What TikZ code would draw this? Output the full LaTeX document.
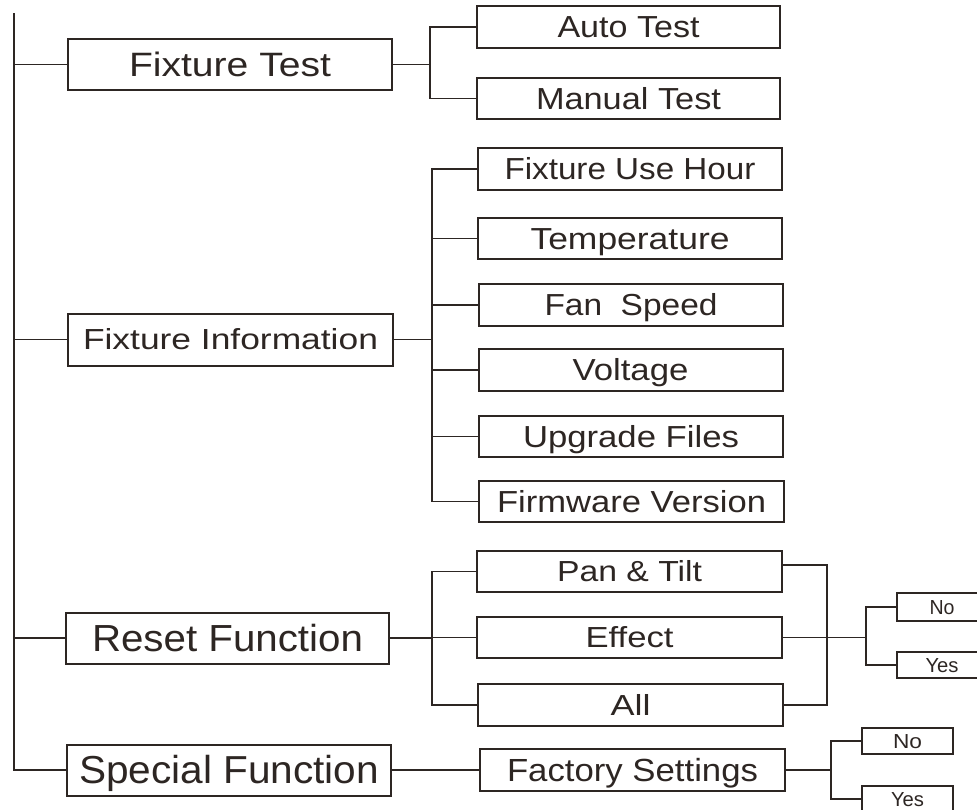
\documentclass[tikz,border=0pt]{standalone}
\usepackage{fontspec}
\setmainfont{Liberation Sans}
\usetikzlibrary{calc}
\definecolor{ink}{HTML}{2D2623}
\newsavebox\lblbox
\newcommand\fitlbl[3]{\fontsize{#1}{#1}\selectfont\sbox\lblbox{#3}\pgfmathsetmacro\lblsx{#2/\the\wd\lblbox}\scalebox{\lblsx}[1]{\usebox\lblbox}}
\tikzset{
  box/.style={draw=ink, line width=2pt, inner sep=0pt, text=ink, text depth=0pt},
  wire/.style={draw=ink, line width=1.9pt},
}
\begin{document}
\begin{tikzpicture}[x=1pt,y=-1pt]
\useasboundingbox (0,0) rectangle (977,809);
% bracket x positions
\coordinate (top) at (14,13);
\coordinate (b1) at (430,0);
\coordinate (b2) at (432,0);
\coordinate (b3) at (827,0);
\coordinate (b4) at (866,0);
\coordinate (b5) at (831,0);
% level 1
\node[box, minimum width=324pt, minimum height=51pt, text height=23.3pt] (ft) at (230,64.5) {\fitlbl{33.8pt}{202}{Fixture Test}};
\node[box, minimum width=325pt, minimum height=52pt, text height=20pt] (fi) at (230.5,339.5) {\fitlbl{29pt}{295}{Fixture Information}};
\node[box, minimum width=323pt, minimum height=51pt, text height=26pt] (rf) at (227.5,638) {\fitlbl{37.7pt}{271}{Reset Function}};
\node[box, minimum width=324pt, minimum height=51pt, text height=27pt] (sf) at (229,770) {\fitlbl{39pt}{300}{Special Function}};
% fixture test children
\node[box, minimum width=303pt, minimum height=42pt, text height=21pt] (at) at (628.5,27) {\fitlbl{30.4pt}{142}{Auto Test}};
\node[box, minimum width=303pt, minimum height=41pt, text height=21pt] (mt) at (628.5,98.5) {\fitlbl{30.4pt}{185}{Manual Test}};
% fixture information children
\node[box, minimum width=304pt, minimum height=42pt, text height=21pt] (fuh) at (630,169) {\fitlbl{30.4pt}{251}{Fixture Use Hour}};
\node[box, minimum width=304pt, minimum height=41pt, text height=21pt] (tmp) at (630,238.5) {\fitlbl{30.4pt}{199}{Temperature}};
\node[box, minimum width=304pt, minimum height=42pt, text height=21pt] (fan) at (631,305) {\fitlbl{30.4pt}{173}{Fan\ \ Speed}};
\node[box, minimum width=304pt, minimum height=42pt, text height=21pt] (vol) at (630.5,370) {\fitlbl{30.4pt}{116}{Voltage}};
\node[box, minimum width=304pt, minimum height=41pt, text height=21pt] (upg) at (631,436.5) {\fitlbl{30.4pt}{216}{Upgrade Files}};
\node[box, minimum width=305pt, minimum height=41pt, text height=21pt] (fw) at (631.5,501.5) {\fitlbl{30.4pt}{269}{Firmware Version}};
% reset children
\node[box, minimum width=305pt, minimum height=41pt, text height=20pt] (pt) at (629.5,571.5) {\fitlbl{29pt}{145}{Pan \& Tilt}};
\node[box, minimum width=305pt, minimum height=41pt, text height=20pt] (ef) at (629.5,637.5) {\fitlbl{29pt}{88}{Effect}};
\node[box, minimum width=305pt, minimum height=42pt, text height=20pt] (al) at (630.5,705) {\fitlbl{29pt}{40}{All}};
\node[box, minimum width=90pt, minimum height=28pt, text height=14pt] (no1) at (942,607) {\fitlbl{20.3pt}{25}{No}};
\node[box, minimum width=90pt, minimum height=26pt, text height=14pt] (yes1) at (942,665) {\fitlbl{20.3pt}{33}{Yes}};
% special children
\node[box, minimum width=305pt, minimum height=42pt, text height=22pt] (fs) at (632.5,770) {\fitlbl{32pt}{251}{Factory Settings}};
\node[box, minimum width=91pt, minimum height=26pt, text height=14pt] (no2) at (907.5,741) {\fitlbl{20.3pt}{29}{No}};
\node[box, minimum width=91pt, minimum height=26pt, text height=14pt] (yes2) at (907.5,799) {\fitlbl{20.3pt}{33}{Yes}};
% main spine
\draw[wire] (top) |- (sf.west);
\draw[wire] (ft.west) -- (ft.west -| top);
\draw[wire] (fi.west) -- (fi.west -| top);
\draw[wire] (rf.west) -- (rf.west -| top);
% fixture test
\draw[wire] (ft.east) -- (ft.east -| b1);
\draw[wire] (at.west) -| (b1 |- mt.west) -- (mt.west);
% fixture information
\draw[wire] (fi.east) -- (fi.east -| b2);
\draw[wire] (fuh.west) -| (b2 |- fw.west) -- (fw.west);
\draw[wire] (tmp.west) -- (tmp.west -| b2);
\draw[wire] (fan.west) -- (fan.west -| b2);
\draw[wire] (vol.west) -- (vol.west -| b2);
\draw[wire] (upg.west) -- (upg.west -| b2);
% reset function
\draw[wire] (rf.east) -- (rf.east -| b2);
\draw[wire] (pt.west) -| (b2 |- al.west) -- (al.west);
\draw[wire] (ef.west) -- (ef.west -| b2);
\draw[wire] ([yshift=6.5pt]pt.east) -| (b3 |- al.east) -- (al.east);
\draw[wire] (ef.east) -- (ef.east -| b4);
\draw[wire] (no1.west) -| (b4 |- yes1.west) -- (yes1.west);
% special function
\draw[wire] (sf.east) -- (fs.west);
\draw[wire] (fs.east) -- (fs.east -| b5);
\draw[wire] (no2.west) -| (b5 |- yes2.west) -- (yes2.west);
\end{tikzpicture}
\end{document}
